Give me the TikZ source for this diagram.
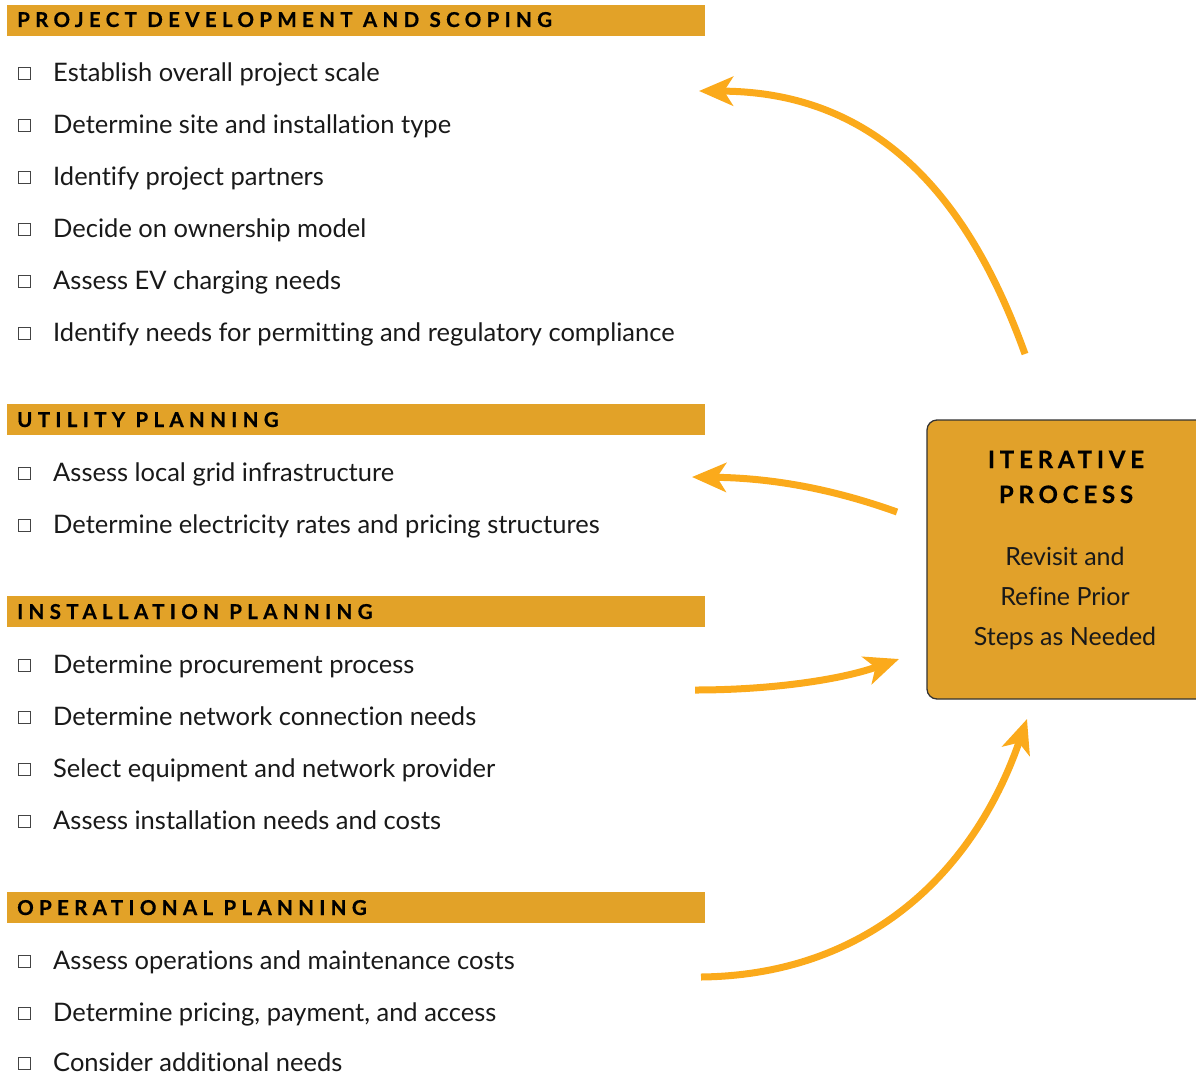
\documentclass[tikz,border=0pt]{standalone}
\usepackage{fontspec}
\setmainfont[Ligatures=NoCommon]{Lato}
\newfontfamily\hdrfont[LetterSpace=26,FakeBold=0.6]{Lato Bold}
\newfontfamily\ttlfont[LetterSpace=20,FakeBold=0.6]{Lato Bold}
\usetikzlibrary{arrows.meta}
\definecolor{bar}{HTML}{E2A228}
\definecolor{boxfill}{HTML}{E1A12A}
\definecolor{arr}{HTML}{FBAA1B}
\definecolor{cbox}{HTML}{444444}
\tikzset{
  hdrbar/.style={fill=bar, draw=none, minimum width=698pt, minimum height=31pt, inner sep=0pt, anchor=north west},
  hdrtext/.style={anchor=base west, inner sep=0pt, font=\hdrfont\fontsize{20.5}{22}\selectfont, text=black},
  item/.style={anchor=base west, inner sep=0pt, font=\fontsize{25.5}{27}\selectfont, text=black!90},
  chk/.style={draw=cbox, line width=0.8pt, minimum width=12pt, minimum height=12pt, inner sep=0pt, anchor=south west},
  iterbox/.style={fill=boxfill, draw=black!80, line width=1.3pt, rounded corners=10pt},
  ttl/.style={anchor=base, inner sep=0pt, font=\ttlfont\fontsize{24}{26}\selectfont},
  body/.style={anchor=base, inner sep=0pt, font=\fontsize{25}{27}\selectfont, text=black!90},
  bigarrow/.style={draw=arr, line width=7pt, -{Stealth[length=34pt,width=29pt,inset=9pt]}},
}
\begin{document}
\begin{tikzpicture}[x=1pt,y=-1pt]
\useasboundingbox (0,0) rectangle (1196,1076);
% headers
\node[hdrbar] (h1) at (7,5) {};
\node[hdrtext] (h1t) at (17,27) {PROJECT DEVELOPMENT AND SCOPING};
\node[hdrbar] (h2) at (7,404) {};
\node[hdrtext] (h2t) at (17,427) {UTILITY PLANNING};
\node[hdrbar] (h3) at (7,596) {};
\node[hdrtext] (h3t) at (17,619) {INSTALLATION PLANNING};
\node[hdrbar] (h4) at (7,892) {};
\node[hdrtext] (h4t) at (17,915) {OPERATIONAL PLANNING};
% items
\foreach \y/\t [count=\i] in {
  81/Establish overall project scale,
  133/Determine site and installation type,
  185/Identify project partners,
  237/Decide on ownership model,
  289/Assess EV charging needs,
  341/Identify needs for permitting and regulatory compliance,
  481/Assess local grid infrastructure,
  533/Determine electricity rates and pricing structures,
  673/Determine procurement process,
  725/Determine network connection needs,
  777/Select equipment and network provider,
  829/Assess installation needs and costs,
  969/Assess operations and maintenance costs,
  1021/{Determine pricing, payment, and access},
  1071/Consider additional needs}{
  \node[chk] (c\i) at (17.5,\y-1.5) {};
  \node[item] (t\i) at (53,\y) {\t};
}
% iterative box
\draw[iterbox] (927,420) rectangle (1215,699);
\node[ttl] (it1) at (1066,468) {ITERATIVE};
\node[ttl] (it2) at (1066,503) {PROCESS};
\node[body] (b1) at (1065,565) {Revisit and};
\node[body] (b2) at (1065,605) {Refine Prior};
\node[body] (b3) at (1065,645) {Steps as Needed};
% arrow end points
\coordinate (a1s) at (1025,354);
\coordinate (a1e) at (699,91);
\coordinate (a2s) at (897,512);
\coordinate (a2e) at (692,477);
\coordinate (a3s) at (695,690);
\coordinate (a3e) at (899,659);
\coordinate (a4s) at (701,977);
\coordinate (a4e) at (1027,719);
\draw[bigarrow] (a1s) .. controls (975,215) and (890,92) .. (a1e);
\draw[bigarrow] (a2s) .. controls (830,488) and (770,478) .. (a2e);
\draw[bigarrow] (a3s) .. controls (770,690) and (840,680) .. (a3e);
\draw[bigarrow] (a4s) .. controls (870,975) and (975,870) .. (a4e);
\end{tikzpicture}
\end{document}
